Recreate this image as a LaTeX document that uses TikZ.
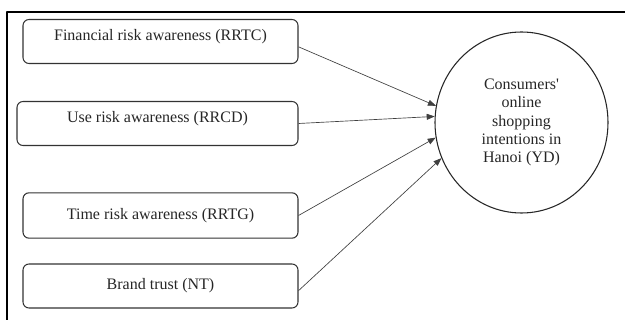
\documentclass[tikz,border=0pt]{standalone}
\usepackage{fontspec}
\setmainfont{Liberation Serif}
\usetikzlibrary{arrows.meta,shapes.geometric}
\begin{document}
\begin{tikzpicture}[>={Triangle[length=6pt,width=4.5pt]}, x=0.75pt, y=-0.75pt, line join=round,
    every node/.style={font=\fontsize{12}{13.7}\selectfont, text=black!85},
    risk/.style={draw=black!80, line width=0.8pt, rounded corners=4.5pt, minimum width=206.25pt, minimum height=33pt, inner sep=0pt},
    raised/.style={text depth=10pt},
    intent/.style={ellipse, draw=black!85, line width=0.8pt, minimum width=129.75pt, minimum height=135.75pt, inner sep=0pt, align=center},
    link/.style={->, draw=black!75, line width=0.5pt}]
    \def\w{625} \def\h{320}
    \useasboundingbox (0,0) rectangle (\w,\h);
    % frame
    \draw[line width=0.9pt] (\w,12) -- (7,12) -- (7,\h);
    % factors
    \node[risk, raised] (rrtc) at (160.5,41.5) {Financial risk awareness (RRTC)};
    \node[risk, raised, minimum width=210.75pt] (rrcd) at (157.5,123.5) {Use risk awareness (RRCD)};
    \node[risk, minimum height=34pt] (rrtg) at (160.5,215.5) {Time risk awareness (RRTG)};
    \node[risk] (nt) at (160.5,286) {Brand trust (NT)};
    % outcome
    \node[intent] (yd) at (521.5,122.5) {Consumers\textquotesingle\\online\\shopping\\intentions in\\Hanoi (YD)};
    \draw[link] ([yshift=-4pt]rrtc.east) -- (yd.169);
    \draw[link] (rrcd.east) -- (yd.176);
    \draw[link] (rrtg.east) -- (yd.190);
    \draw[link] ([yshift=-3.5pt]nt.east) -- (yd.204);
\end{tikzpicture}
\end{document}
